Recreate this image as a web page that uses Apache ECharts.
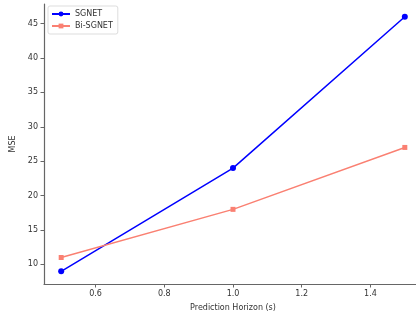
<!DOCTYPE html>
<html>
<head>
<meta charset="utf-8">
<script src="https://cdn.jsdelivr.net/npm/echarts@6/dist/echarts.min.js"></script>
<style>
  html, body { margin: 0; padding: 0; background: #fff; }
  #chart { width: 416px; height: 320px; }
</style>
</head>
<body>
<div id="chart"></div>
<script>
const horizons = [0.5, 1.0, 1.5];
const sgnet = [9, 24, 46];
const biSgnet = [11, 18, 27];
const xTicks = [0.6, 0.8, 1.0, 1.2, 1.4];
const yTicks = [10, 15, 20, 25, 30, 35, 40, 45];

const chart = echarts.init(document.getElementById('chart'));

const ink = '#333333';
const spine = '#666666';
const font = 'DejaVu Sans';

const option = {
  backgroundColor: '#fff',
  animation: false,
  grid: { left: 44, top: 4, width: 378, height: 280, outerBoundsMode: 'none' },
  legend: {
    left: 48,
    top: 6,
    orient: 'vertical',
    itemWidth: 18,
    itemHeight: 6,
    itemGap: 4,
    padding: [4, 5, 4, 3],
    backgroundColor: '#fff',
    borderColor: '#dddddd',
    borderWidth: 1,
    borderRadius: 2,
    textStyle: { color: ink, fontSize: 8, fontFamily: font },
    data: ['SGNET', 'Bi-SGNET']
  },
  xAxis: {
    type: 'value',
    min: 0.45,
    max: 1.55,
    name: 'Prediction Horizon (s)',
    nameLocation: 'middle',
    nameGap: 20,
    nameTextStyle: { color: ink, fontSize: 8, fontFamily: font },
    axisLine: { show: true, onZero: false, lineStyle: { color: spine, width: 1.2 } },
    axisTick: { show: true, length: 3.5, lineStyle: { color: spine }, customValues: xTicks },
    axisLabel: {
      color: ink, fontSize: 8, fontFamily: font, margin: 6,
      customValues: xTicks,
      formatter: v => v.toFixed(1)
    },
    splitLine: { show: false }
  },
  yAxis: {
    type: 'value',
    min: 7.15,
    max: 47.85,
    name: 'MSE',
    nameLocation: 'middle',
    nameGap: 24,
    nameTextStyle: { color: ink, fontSize: 8, fontFamily: font },
    axisLine: { show: true, onZero: false, lineStyle: { color: spine, width: 1.2 } },
    axisTick: { show: true, length: 3.5, lineStyle: { color: spine }, customValues: yTicks },
    axisLabel: {
      color: ink, fontSize: 8, fontFamily: font, margin: 6,
      customValues: yTicks
    },
    splitLine: { show: false }
  },
  series: [
    {
      name: 'SGNET',
      type: 'line',
      data: horizons.map((x, i) => [x, sgnet[i]]),
      symbol: 'circle',
      symbolSize: 6,
      lineStyle: { color: '#0000ff', width: 1.5 },
      itemStyle: { color: '#0000ff' }
    },
    {
      name: 'Bi-SGNET',
      type: 'line',
      data: horizons.map((x, i) => [x, biSgnet[i]]),
      symbol: 'rect',
      symbolSize: 5,
      lineStyle: { color: '#fa8072', width: 1.5 },
      itemStyle: { color: '#fa8072' }
    }
  ]
};

chart.setOption(option);
window.addEventListener('resize', () => chart.resize());
</script>
</body>
</html>
